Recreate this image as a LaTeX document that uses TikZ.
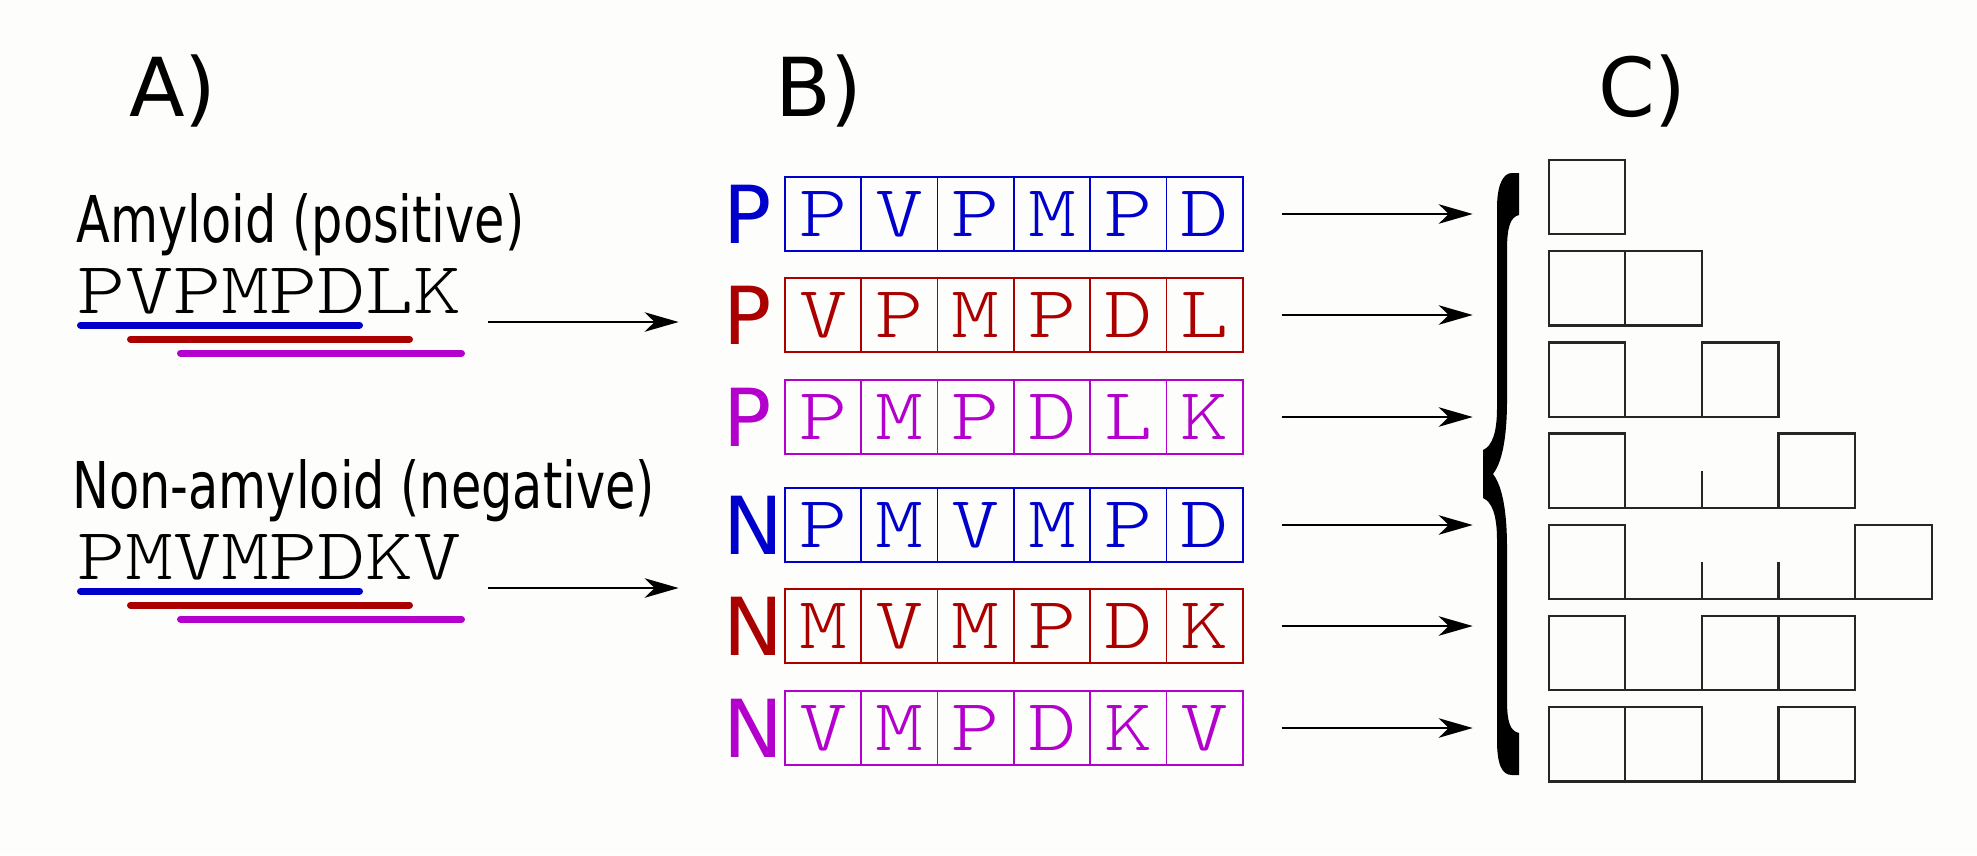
\documentclass[tikz,border=0pt]{standalone}
\usepackage{fontspec}
\usetikzlibrary{arrows.meta}

\newfontfamily\headfont{DejaVu Sans}
\newfontfamily\titlefont{DejaVu Sans}[FakeStretch=0.765]
\newfontfamily\seqfont{lmmonolt10-regular.otf}[FakeStretch=1.243]

\definecolor{paper}{RGB}{253,253,251}
\definecolor{winblue}{RGB}{0,0,204}
\definecolor{winred}{RGB}{170,0,0}
\definecolor{winviolet}{RGB}{179,0,204}

\begin{document}
\begin{tikzpicture}[x=1pt, y=-1pt,
header/.style={anchor=base west, inner sep=0pt, font=\headfont\fontsize{81.3}{90}\selectfont},
class_title/.style={anchor=base west, inner sep=0pt, font=\titlefont\fontsize{64.5}{70}\selectfont},
sequence/.style={anchor=base west, inner sep=0pt, font=\seqfont\fontsize{73.6}{80}\selectfont},
class_label/.style={anchor=base west, inner sep=0pt, text=#1, font=\headfont\fontsize{80}{90}\selectfont},
cell/.style={rectangle, draw=#1, text=#1, line width=1.7pt, minimum width=76.3pt, minimum height=74.5pt, inner sep=0pt, outer sep=0pt, font=\seqfont\fontsize{73.6}{80}\selectfont},
slot/.style={rectangle, draw=black!85, line width=2.3pt, minimum width=76.6pt, minimum height=74.3pt, inner sep=0pt, outer sep=0pt},
gap_line/.style={draw=black!85, line width=2.3pt},
window/.style={draw=#1, line width=7pt, line cap=round},
out_arrow/.style={-{Stealth[length=34pt, width=19.5pt, inset=10pt]}, line width=2pt}
]

\fill[paper] (0,0) rectangle (1977,855);
\useasboundingbox (0,0) rectangle (1977,855);

% headers
\node[header](head_a) at (129,116) {A)};
\node[header](head_b) at (775,116) {B)};
\node[header](head_c) at (1598,116) {C)};

% A) sequences and sliding windows
\node[class_title](title_pos) at (76.6,242) {Amyloid (positive)};
\node[sequence](seq_pos) at (77,313) {PVPMPDLK};
\draw[window=winblue] (80.5,325) -- (359.5,325);
\draw[window=winred] (130.5,339) -- (409.5,339);
\draw[window=winviolet] (180.5,353) -- (461.5,353);

\node[class_title](title_neg) at (72.2,508) {Non-amyloid (negative)};
\node[sequence](seq_neg) at (77,579) {PMVMPDKV};
\draw[window=winblue] (80.5,591) -- (359.5,591);
\draw[window=winred] (130.5,605) -- (409.5,605);
\draw[window=winviolet] (180.5,619) -- (461.5,619);

\coordinate (from_pos) at (488,322);
\coordinate (to_pos) at (678.6,322);
\coordinate (from_neg) at (488,588);
\coordinate (to_neg) at (678.6,588);
\draw[out_arrow](from_pos) -- (to_pos);
\draw[out_arrow](from_neg) -- (to_neg);

% B) windows as rows of cells
\node[class_label=winblue](lab_p1) at (723,243) {P};
\node[class_label=winred](lab_p2) at (723,344) {P};
\node[class_label=winviolet](lab_p3) at (723,446) {P};
\node[class_label=winblue](lab_n1) at (723,554) {N};
\node[class_label=winred](lab_n2) at (723,655) {N};
\node[class_label=winviolet](lab_n3) at (723,757) {N};

\foreach \l [count=\i] in {P,V,P,M,P,D}
  \node[cell=winblue](p1_\i) at (746.85+76.3*\i,214) {\l};
\foreach \l [count=\i] in {V,P,M,P,D,L}
  \node[cell=winred](p2_\i) at (746.85+76.3*\i,315) {\l};
\foreach \l [count=\i] in {P,M,P,D,L,K}
  \node[cell=winviolet](p3_\i) at (746.85+76.3*\i,417) {\l};
\foreach \l [count=\i] in {P,M,V,M,P,D}
  \node[cell=winblue](n1_\i) at (746.85+76.3*\i,525) {\l};
\foreach \l [count=\i] in {M,V,M,P,D,K}
  \node[cell=winred](n2_\i) at (746.85+76.3*\i,626) {\l};
\foreach \l [count=\i] in {V,M,P,D,K,V}
  \node[cell=winviolet](n3_\i) at (746.85+76.3*\i,728) {\l};

\foreach \r/\y in {p1/214,p2/315,p3/417,n1/525,n2/626,n3/728}{
  \coordinate (tip_\r) at (1472.7,\y);
  \draw[out_arrow, shorten <=38.7pt](\r_6.east) -- (tip_\r);
}

% C) brace
\fill[black] (1519,173) -- (1519,215)
  .. controls (1510,217) and (1507,228) .. (1507,250) -- (1507,400)
  .. controls (1507,445) and (1500,465) .. (1493,474)
  .. controls (1500,483) and (1507,503) .. (1507,548) -- (1507,700)
  .. controls (1507,722) and (1510,731) .. (1519,733) -- (1519,775)
  -- (1512,775) .. controls (1502,775) and (1497,765) .. (1497,740) -- (1497,540)
  .. controls (1497,515) and (1492,502) .. (1483,498) -- (1483,450)
  .. controls (1492,446) and (1497,433) .. (1497,408) -- (1497,208)
  .. controls (1497,185) and (1503,173) .. (1512,173) -- cycle;

% C) gapped patterns
\node[slot](s1_1) at (1587,197.15) {};

\node[slot](s2_1) at (1587,288.35) {};
\node[slot](s2_2) at (1663.6,288.35) {};

\node[slot](s3_1) at (1587,379.55) {};
\node[slot](s3_3) at (1740.2,379.55) {};
\draw[gap_line](s3_1.south east) -- (s3_3.south west);

\node[slot](s4_1) at (1587,470.75) {};
\node[slot](s4_4) at (1816.8,470.75) {};
\draw[gap_line](s4_1.south east) -- (s4_4.south west);
\draw[gap_line](1701.9,507.9) -- (1701.9,470.75);

\node[slot](s5_1) at (1587,561.95) {};
\node[slot](s5_5) at (1893.4,561.95) {};
\draw[gap_line](s5_1.south east) -- (s5_5.south west);
\draw[gap_line](1701.9,599.1) -- (1701.9,561.95);
\draw[gap_line](1778.5,599.1) -- (1778.5,561.95);

\node[slot](s6_1) at (1587,653.15) {};
\node[slot](s6_3) at (1740.2,653.15) {};
\node[slot](s6_4) at (1816.8,653.15) {};
\draw[gap_line](s6_1.south east) -- (s6_3.south west);

\node[slot](s7_1) at (1587,744.35) {};
\node[slot](s7_2) at (1663.6,744.35) {};
\node[slot](s7_4) at (1816.8,744.35) {};
\draw[gap_line](s7_2.south east) -- (s7_4.south west);

\end{tikzpicture}
\end{document}
